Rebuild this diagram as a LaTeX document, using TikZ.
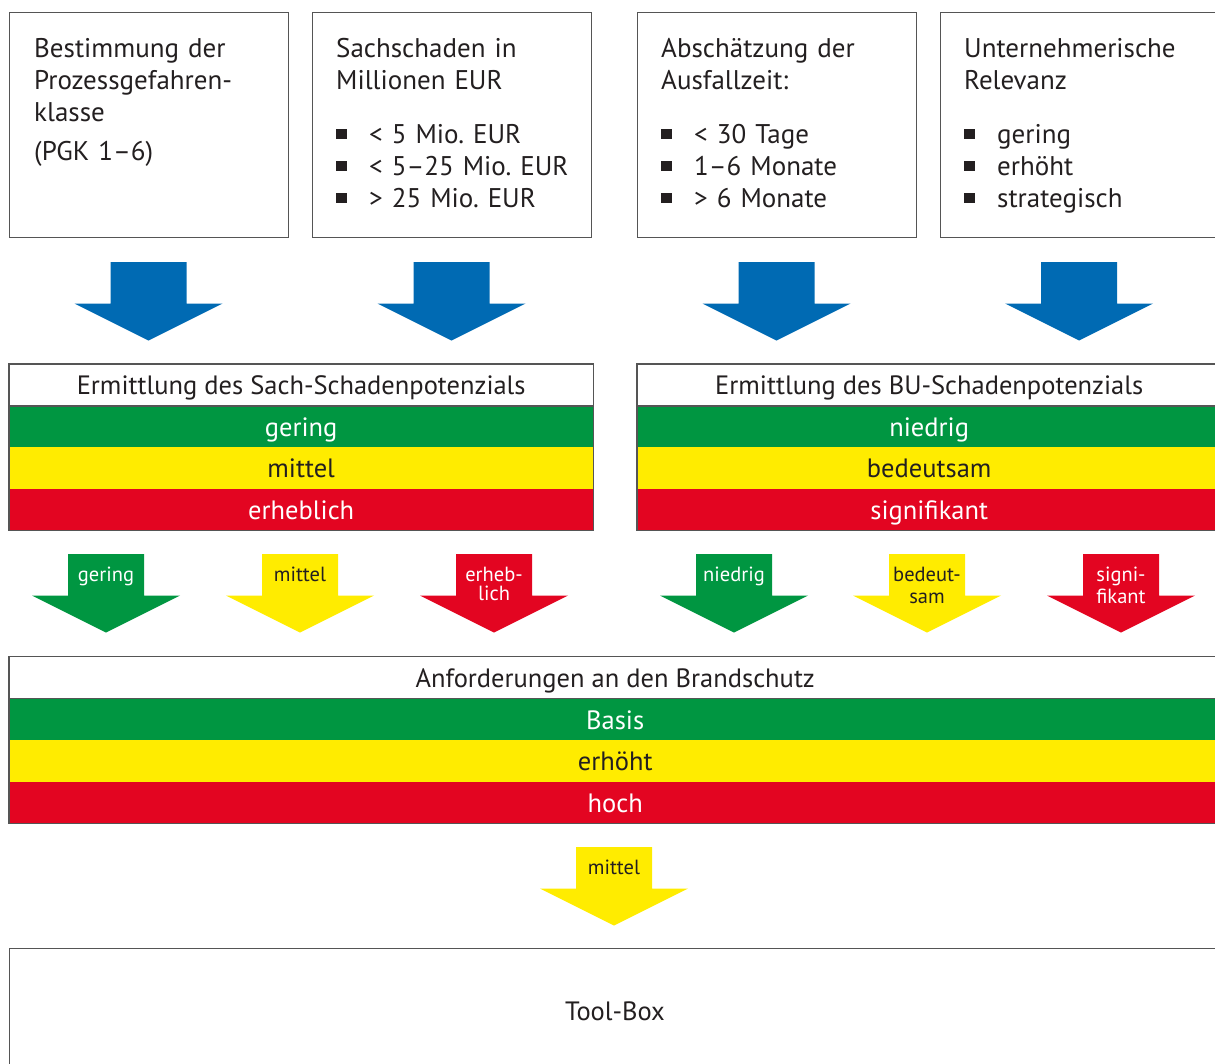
\documentclass[tikz,border=0pt]{standalone}
\usepackage{fontspec}
\setmainfont{PT Sans}
\definecolor{cgreen}{HTML}{009641}
\definecolor{cyellow}{HTML}{FFEC00}
\definecolor{cred}{HTML}{E30521}
\definecolor{cblue}{HTML}{006AB3}
\definecolor{ctext}{HTML}{231F20}
\definecolor{cborder}{HTML}{555555}
\newcommand{\myarrow}[4]{%
  \fill[#4] (#2-38,#3) -- (#2+38,#3) -- (#2+38,#3+41.5) -- (#2+74,#3+41.5)
    -- (#2,#3+78.5) -- (#2-74,#3+41.5) -- (#2-38,#3+41.5) -- cycle;
  \coordinate (#1) at (#2,#3);}
\newcommand{\bul}{\makebox[33pt][l]{\rule[4pt]{10.5pt}{10.5pt}}}
\frenchspacing
\begin{document}
\begin{tikzpicture}[x=1pt,y=-1pt,
  topbox/.style={draw=cborder, line width=1.2pt, anchor=north west,
    minimum width=279pt, minimum height=225pt, inner sep=0pt},
  toptext/.style={anchor=base west, inner sep=0pt, text width=270pt, align=left,
    text=ctext, font=\fontsize{27}{32}\selectfont},
  rowbox/.style={anchor=north west, inner sep=0pt, minimum height=41.5pt,
    text height=19.5pt, text depth=0pt, font=\fontsize{26.5}{30}\selectfont},
  arrlabel/.style={inner sep=0pt, align=center, font=\fontsize{20.5}{21}\selectfont},
  tblborder/.style={draw=cborder, line width=1.3pt}]
\useasboundingbox (0,0) rectangle (1215,1063);
\clip (0,0) rectangle (1215,1063);

% top boxes
\node[topbox] (b1) at (9,12) {};
\node[topbox] (b2) at (312,12) {};
\node[topbox] (b3) at (637,12) {};
\node[topbox] (b4) at (940,12) {};
\node[toptext] (t1) at (34,57) {Bestimmung der\\Prozessgefahren-\\klasse\\[7pt](PGK 1–6)};
\node[toptext] (t2) at (336,57) {Sachschaden in\\Millionen EUR\\[22pt]\bul< 5 Mio. EUR\\\bul< 5–25 Mio. EUR\\\bul> 25 Mio. EUR};
\node[toptext] (t3) at (661,57) {Abschätzung der\\Ausfallzeit:\\[22pt]\bul< 30 Tage\\\bul 1–6 Monate\\\bul> 6 Monate};
\node[toptext] (t4) at (964,57) {Unternehmerische\\Relevanz\\[22pt]\bul gering\\\bul erhöht\\\bul strategisch};

% blue arrows
\myarrow{a1}{148.5}{262}{cblue}
\myarrow{a2}{451.5}{262}{cblue}
\myarrow{a3}{776.5}{262}{cblue}
\myarrow{a4}{1079}{262}{cblue}

% Sach table
\node[rowbox, minimum width=584pt, fill=white, text=ctext] (sh) at (9,364) {Ermittlung des Sach-Schadenpotenzials};
\node[rowbox, minimum width=584pt, fill=cgreen, text=white] (sg) at (9,405.5) {gering};
\node[rowbox, minimum width=584pt, fill=cyellow, text=ctext] (sm) at (9,447) {mittel};
\node[rowbox, minimum width=584pt, fill=cred, text=white] (se) at (9,488.5) {erheblich};
\draw[tblborder] (sh.north west) rectangle (se.south east);
\draw[tblborder] (sh.south west) -- (sh.south east);

% BU table
\node[rowbox, minimum width=584pt, fill=white, text=ctext] (bh) at (637,364) {Ermittlung des BU-Schadenpotenzials};
\node[rowbox, minimum width=584pt, fill=cgreen, text=white] (bn) at (637,405.5) {niedrig};
\node[rowbox, minimum width=584pt, fill=cyellow, text=ctext] (bb) at (637,447) {bedeutsam};
\node[rowbox, minimum width=584pt, fill=cred, text=white] (bs) at (637,488.5) {signifikant};
\draw[tblborder] (bh.north west) rectangle (bs.south east);
\draw[tblborder] (bh.south west) -- (bh.south east);

% small arrows
\myarrow{s1}{106}{554}{cgreen}
\myarrow{s2}{300}{554}{cyellow}
\myarrow{s3}{494}{554}{cred}
\myarrow{s4}{734}{554}{cgreen}
\myarrow{s5}{927}{554}{cyellow}
\myarrow{s6}{1121}{554}{cred}
\node[arrlabel, text=white, anchor=base] (l1) at (106,581) {gering};
\node[arrlabel, text=ctext, anchor=base] (l2) at (300,581) {mittel};
\node[arrlabel, text=white, anchor=base] (l3) at (494,581) {erheb-};
\node[arrlabel, text=white, anchor=base] (l3b) at (494,600) {lich};
\node[arrlabel, text=white, anchor=base] (l4) at (734,581) {niedrig};
\node[arrlabel, text=ctext, anchor=base] (l5) at (927,581) {bedeut-};
\node[arrlabel, text=ctext, anchor=base] (l5b) at (927,603) {sam};
\node[arrlabel, text=white, anchor=base] (l6) at (1121,581) {signi-};
\node[arrlabel, text=white, anchor=base] (l6b) at (1121,603) {fikant};

% Anforderungen table
\node[rowbox, minimum width=1212pt, fill=white, text=ctext] (ah) at (9,656.5) {Anforderungen an den Brandschutz};
\node[rowbox, minimum width=1212pt, fill=cgreen, text=white] (ab) at (9,698.5) {Basis};
\node[rowbox, minimum width=1212pt, fill=cyellow, text=ctext] (ae) at (9,740) {erhöht};
\node[rowbox, minimum width=1212pt, fill=cred, text=white] (ac) at (9,781.5) {hoch};
\draw[tblborder] (ah.north west) rectangle (ac.south east);
\draw[tblborder] (ah.south west) -- (ah.south east);

% mittel arrow
\myarrow{m1}{614}{847}{cyellow}
\node[arrlabel, text=ctext, anchor=base] (lm) at (614,874) {mittel};

% Tool-Box
\node[draw=cborder, line width=1.2pt, anchor=north west, minimum width=1212pt,
  minimum height=130pt, inner sep=0pt] (tb) at (9,948) {};
\node[text=ctext, font=\fontsize{26.5}{30}\selectfont, inner sep=0pt] (tbl) at (615,1011) {Tool-Box};
\end{tikzpicture}
\end{document}
